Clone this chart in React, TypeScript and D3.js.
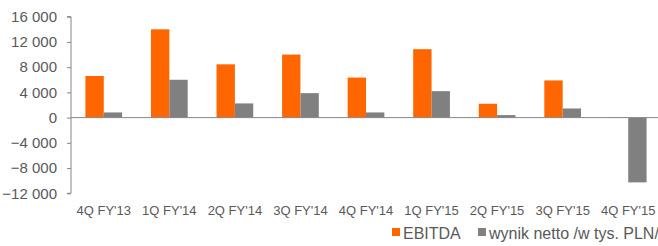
import React, { useEffect, useRef } from 'react';
import * as d3 from 'd3';

const quarters = ["4Q FY'13", "1Q FY'14", "2Q FY'14", "3Q FY'14", "4Q FY'14", "1Q FY'15", "2Q FY'15", "3Q FY'15", "4Q FY'15"];
const ebitda = [6600, 14000, 8450, 10000, 6350, 10850, 2200, 5900, -50];
const wynikNetto = [820, 6000, 2250, 3880, 820, 4200, 400, 1450, -10270];
const yTicks = [-12000, -8000, -4000, 0, 4000, 8000, 12000, 16000];
const seriesNames = ['EBITDA', 'wynik netto /w tys. PLN/'];
const colors = ['#ff6600', '#808080'];

const W = 658;
const H = 246;
const FONT = '"Liberation Sans", Arial, sans-serif';

export default function App() {
  const ref = useRef<SVGSVGElement>(null);

  useEffect(() => {
    const svg = d3.select(ref.current);
    svg.selectAll('*').remove();

    const left = 71, right = 661, top = 16.7, bottom = 193.3;

    const x = d3.scaleBand<string>().domain(quarters).range([left, right]).paddingInner(0).paddingOuter(0);
    const y = d3.scaleLinear().domain([-12000, 16000]).range([bottom, top]);
    const bw = x.bandwidth() * 0.28;

    // bars
    [ebitda, wynikNetto].forEach((vals, s) => {
      svg.append('g').selectAll('rect')
        .data(vals)
        .enter().append('rect')
        .attr('x', (d, i) => x(quarters[i])! + x.bandwidth() / 2 - bw + s * bw)
        .attr('width', bw)
        .attr('y', d => y(Math.max(0, d)))
        .attr('height', d => Math.abs(y(d) - y(0)))
        .style('fill', colors[s]);
    });

    // y axis
    const yAxis = svg.append('g')
      .attr('transform', 'translate(' + left + ',0)')
      .call(d3.axisLeft(y).tickValues(yTicks).tickSize(4).tickPadding(10)
        .tickFormat(d => d3.format(',')(d as number).replace(/,/g, ' ')));
    yAxis.select('.domain').attr('stroke', '#868686').attr('d', `M-4,${top}H0V${bottom}H-4`);
    yAxis.selectAll('.tick line').attr('stroke', '#868686');
    yAxis.selectAll('.tick text')
      .attr('fill', '#595959')
      .style('font-family', FONT)
      .style('font-size', '15px');

    // zero line
    svg.append('line')
      .attr('x1', left).attr('x2', right)
      .attr('y1', y(0)).attr('y2', y(0))
      .attr('stroke', '#868686');

    // x labels
    svg.append('g').selectAll('text')
      .data(quarters)
      .enter().append('text')
      .attr('x', d => x(d)! + x.bandwidth() / 2)
      .attr('y', 215)
      .attr('text-anchor', 'middle')
      .attr('fill', '#595959')
      .style('font-family', FONT)
      .style('font-size', '13px')
      .text(d => d);

    // legend
    const legendX = [392, 478];
    seriesNames.forEach((name, i) => {
      svg.append('rect')
        .attr('x', legendX[i]).attr('y', 228)
        .attr('width', 8).attr('height', 8)
        .style('fill', colors[i]);
      svg.append('text')
        .attr('x', legendX[i] + 11).attr('y', 238.5)
        .attr('fill', '#595959')
        .style('font-family', FONT)
        .style('font-size', '16px')
        .text(name);
    });
  }, []);

  return (
    <svg ref={ref} width={W} height={H}
      style={{ position: 'absolute', left: 0, top: 0, display: 'block', background: '#fff' }} />
  );
}
